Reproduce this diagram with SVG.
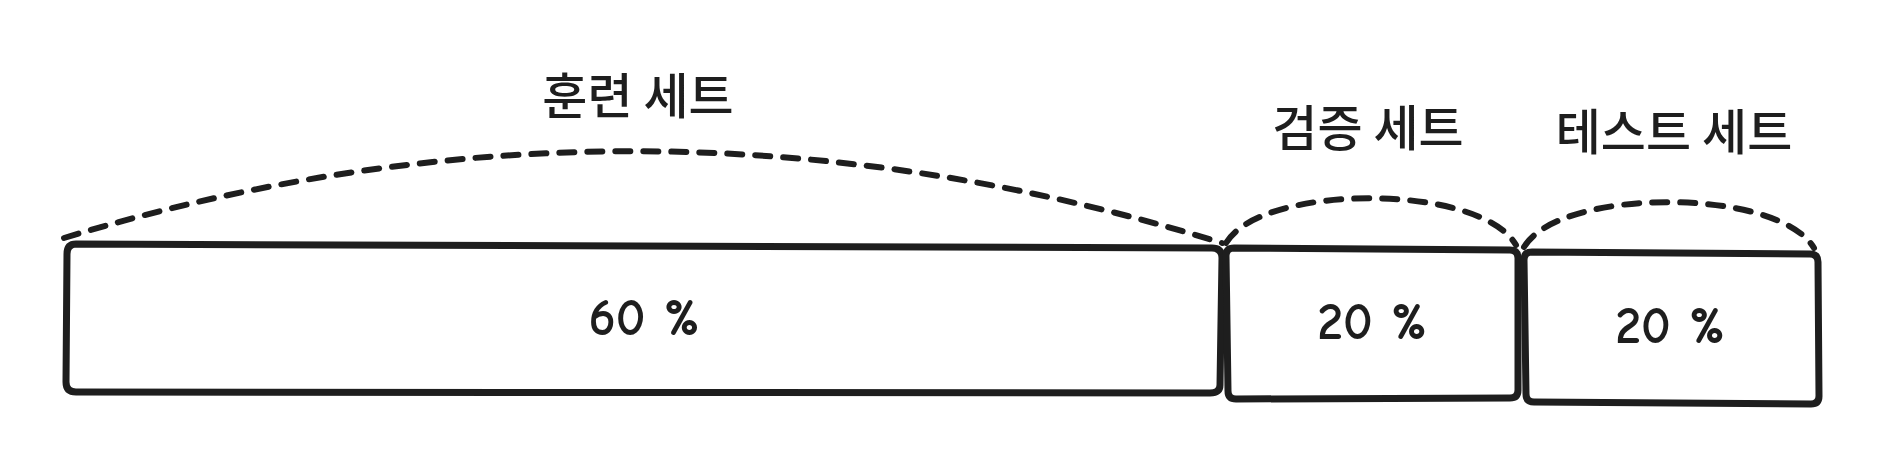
<svg xmlns="http://www.w3.org/2000/svg" width="1881" height="467" viewBox="0 0 1881 467">
<style>
.box{fill:#fff;stroke:#1e1e1e;stroke-width:7;stroke-linejoin:round}
.arc{fill:none;stroke:#1e1e1e;stroke-width:6;stroke-dasharray:15 13;stroke-linecap:round}
.title{font-family:"Noto Sans CJK KR","Noto Sans",sans-serif;font-size:49px;font-weight:500;fill:#1e1e1e;text-anchor:middle}
.pct{font-family:"Comic Neue","Lato","Noto Sans",sans-serif;font-size:52px;font-weight:700;fill:#1e1e1e;text-anchor:middle;dominant-baseline:central}
</style>
<g id="connectors">
<path class="arc" d="M64,238 Q640,62 1222,243"/>
<path class="arc" d="M1226,243 C1262,183 1480,183 1516,245"/>
<path class="arc" d="M1524,247 C1560,187 1778,187 1814,248"/>
</g>
<g id="train">
<path class="box" d="M76,244 L1212,248 Q1222,248 1222,258 L1220,385 Q1220,393 1210,393 L76,392 Q66,392 66,382 L67,254 Q67,244 76,244 Z"/>
<text class="pct" x="644" y="318">60 %</text>
</g>
<g id="val">
<path class="box" d="M1234,248 L1510,250 Q1518,250 1518,258 L1518,390 Q1518,398 1510,398 L1236,399 Q1228,399 1228,391 L1226,256 Q1226,248 1234,248 Z"/>
<text class="pct" x="1372" y="322">20 %</text>
</g>
<g id="test">
<path class="box" d="M1532,252 L1810,254 Q1818,254 1818,262 L1819,396 Q1819,404 1811,404 L1534,402 Q1526,402 1526,394 L1524,260 Q1524,252 1532,252 Z"/>
<text class="pct" x="1670" y="326">20 %</text>
</g>
<g id="label-train"><text class="title" x="638" y="114">훈련 세트</text></g>
<g id="label-val"><text class="title" x="1368" y="146">검증 세트</text></g>
<g id="label-test"><text class="title" x="1674" y="150">테스트 세트</text></g>
</svg>
